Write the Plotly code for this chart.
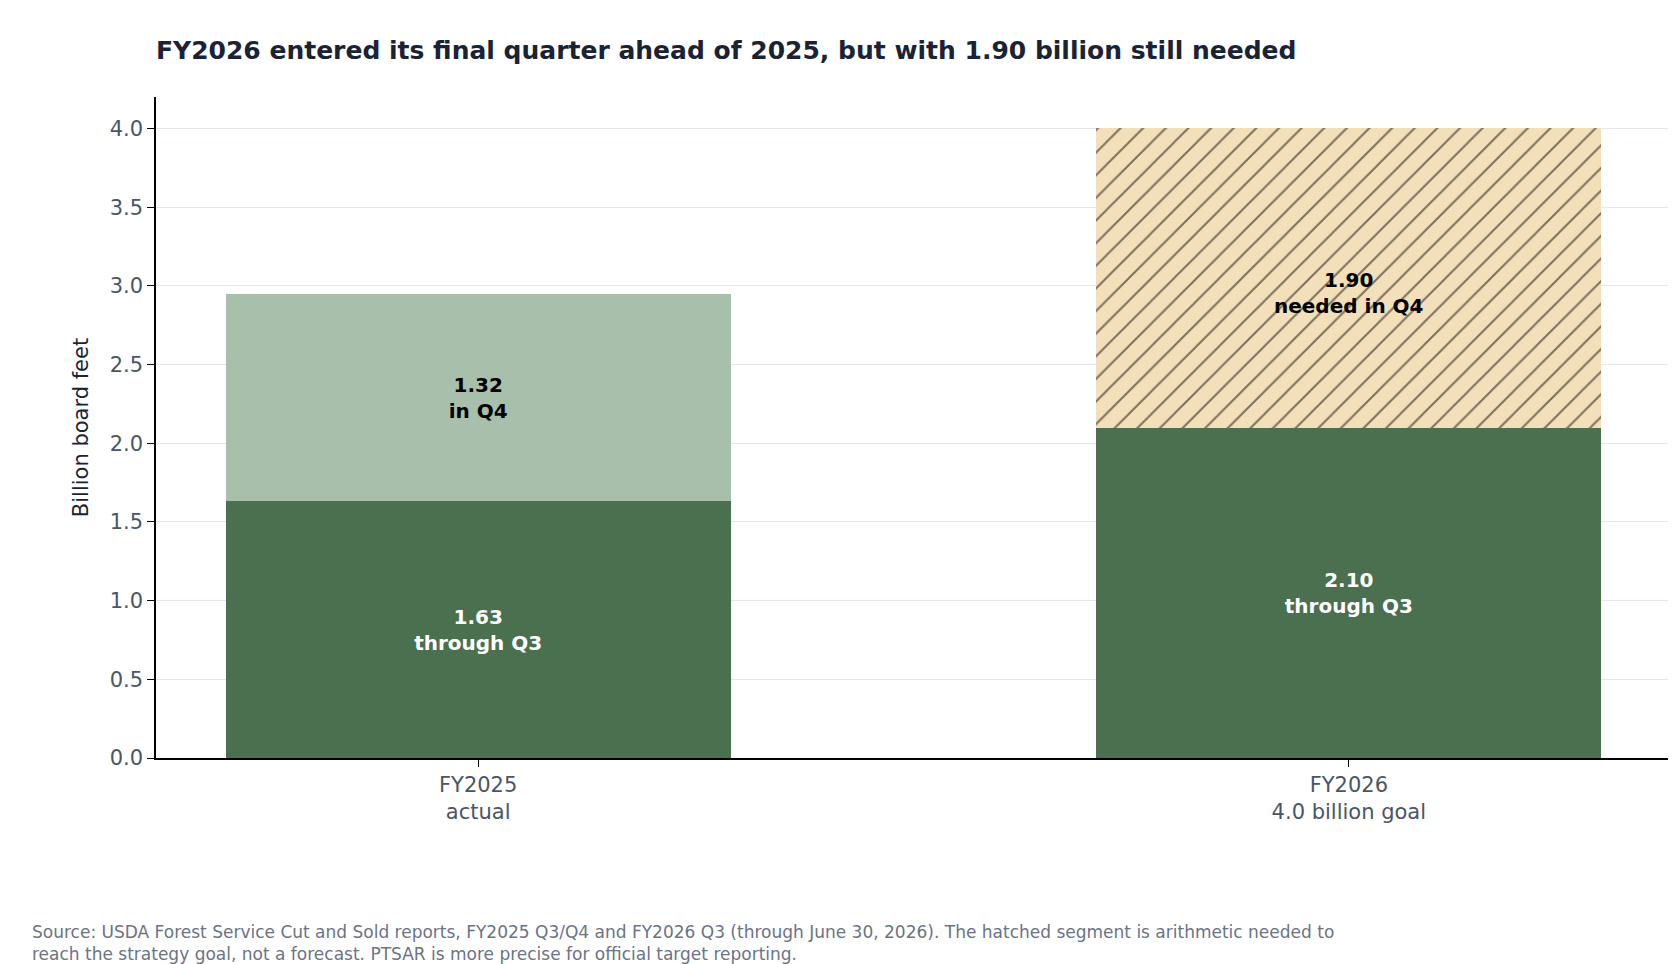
import plotly.graph_objects as go

categories = ["FY2025<br>actual", "FY2026<br>4.0 billion goal"]
through_q3 = [1.63, 2.10]
q4_values = [1.32, 1.90]
q4_labels = ["<b>1.32<br>in Q4</b>", "<b>1.90<br>needed in Q4</b>"]
q3_labels = ["<b>1.63<br>through Q3</b>", "<b>2.10<br>through Q3</b>"]

xpos = [0, 1]
fig = go.Figure()

# base segment through Q3
fig.add_trace(go.Bar(
    x=xpos, y=through_q3, width=0.58,
    marker=dict(color="#4a7050", line=dict(width=0)),
    text=q3_labels, textposition="inside", insidetextanchor="middle",
    textfont=dict(color="white", size=20, family="DejaVu Sans"),
))

# Q4: actual for 2025, hatched gap for 2026
fig.add_trace(go.Bar(
    x=[xpos[0]], y=[q4_values[0]], width=0.58,
    marker=dict(color="#a8bfac", line=dict(width=0)),
    text=[q4_labels[0]], textposition="inside", insidetextanchor="middle",
    textfont=dict(color="black", size=20, family="DejaVu Sans"),
))
fig.add_trace(go.Bar(
    x=[xpos[1]], y=[q4_values[1]], width=0.58,
    marker=dict(color="#f3dfb9", line=dict(width=0),
                pattern=dict(shape="/", fgcolor="black", bgcolor="#f3dfb9",
                             size=16, solidity=0.12)),
))
fig.add_annotation(x=xpos[1], y=through_q3[1] + q4_values[1] * 0.45,
                   text=q4_labels[1], showarrow=False,
                   font=dict(color="black", size=20, family="DejaVu Sans"))

fig.update_layout(
    barmode="stack", showlegend=False,
    width=1676, height=964,
    paper_bgcolor="white", plot_bgcolor="white",
    font=dict(family="DejaVu Sans", color="#4a5568"),
    margin=dict(l=148, r=13, t=89, b=214),
    title=dict(text="<b>FY2026 entered its final quarter ahead of 2025, but with 1.90 billion still needed</b>",
               x=148 / 1676, xanchor="left", y=0.965, font=dict(size=25, color="#1a2336")),
    xaxis=dict(range=[-0.37, 1.37], tickvals=xpos, ticktext=categories,
               showline=True, linecolor="black", linewidth=1.5, ticks="outside",
               tickcolor="black", ticklen=7, tickfont=dict(size=21, color="#4a5568")),
    yaxis=dict(range=[0, 4.2], dtick=0.5, tickformat=".1f",
               showgrid=True, gridcolor="#e2e6ee", zeroline=False,
               showline=True, linecolor="black", linewidth=1.5, ticks="outside",
               tickcolor="black", ticklen=7, tickfont=dict(size=21, color="#4a5568"),
               title=dict(text="Billion board feet", font=dict(size=21, color="#1a2336"))),
)

fig.add_annotation(
    xref="paper", yref="paper", x=-(148 - 22) / 1515, y=-0.245, xanchor="left", yanchor="top",
    align="left", showarrow=False,
    text="Source: USDA Forest Service Cut and Sold reports, FY2025 Q3/Q4 and FY2026 Q3 (through June 30, 2026). The hatched segment is arithmetic needed to<br>reach the strategy goal, not a forecast. PTSAR is more precise for official target reporting.",
    font=dict(size=17, color="#6b7385"),
)

fig.write_html("out.html")
